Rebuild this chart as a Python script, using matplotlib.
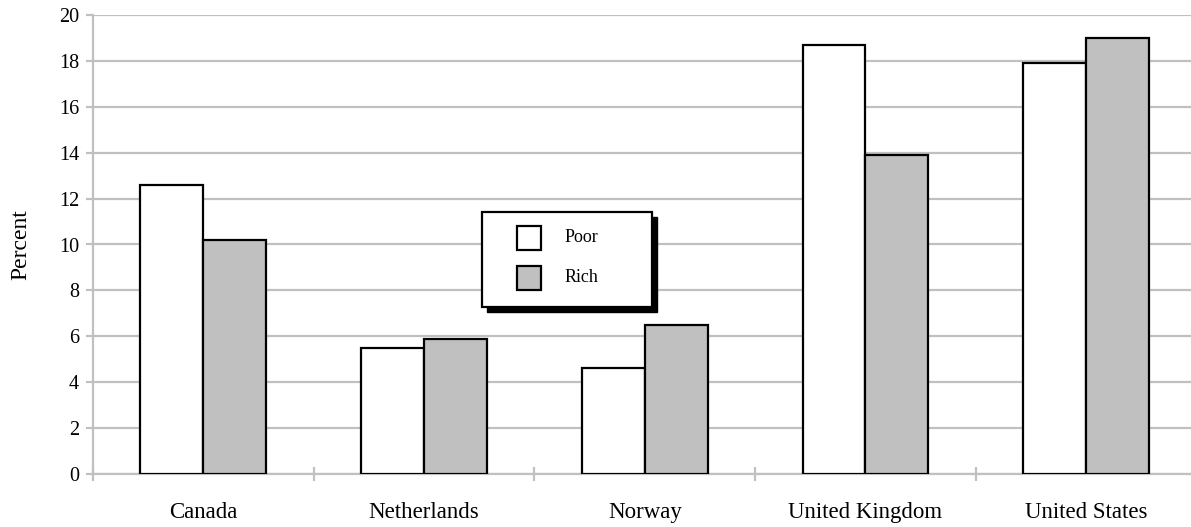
import matplotlib.pyplot as plt
from matplotlib.patches import Rectangle
import numpy as np

# poverty rates by country, poor vs rich
countries = ["Canada", "Netherlands", "Norway", "United Kingdom", "United States"]
poor = [12.6, 5.5, 4.6, 18.7, 17.9]
rich = [10.2, 5.9, 6.5, 13.9, 19.0]
y_ticks = [0, 2, 4, 6, 8, 10, 12, 14, 16, 18, 20]

plt.rcParams['font.family'] = ['Liberation Serif', 'DejaVu Serif']

W, H = 1191, 527
fig = plt.figure(figsize=(W / 100, H / 100), dpi=100)
ax = fig.add_axes([93 / W, 53 / H, 1103.5 / W, 459 / H])

grid_col = '#c0c0c0'
x = np.arange(len(countries))
bw = 0.285

ax.bar(x - bw / 2, poor, bw, color='white', edgecolor='black', linewidth=1.6, zorder=3, label='Poor')
ax.bar(x + bw / 2, rich, bw, color='#c0c0c0', edgecolor='black', linewidth=1.6, zorder=3, label='Rich')

ax.set_xlim(-0.5, len(countries) - 0.5)
ax.set_ylim(0, 20)
ax.set_yticks(y_ticks)
ax.yaxis.grid(True, color=grid_col, linewidth=1.6, zorder=0)
ax.set_axisbelow(True)

for s in ['top', 'right']:
    ax.spines[s].set_visible(False)
for s in ['left', 'bottom']:
    ax.spines[s].set_color(grid_col)
    ax.spines[s].set_linewidth(1.6)

# category boundaries as crossing ticks, names on minor ticks
ax.set_xticks(np.arange(len(countries) + 1) - 0.5)
ax.set_xticklabels([])
ax.set_xticks(x, minor=True)
ax.set_xticklabels(countries, minor=True, fontsize=16.5)
ax.tick_params(axis='x', which='major', direction='inout', length=10, width=1.6, color=grid_col)
ax.tick_params(axis='x', which='minor', length=0, pad=20)
ax.tick_params(axis='y', direction='out', length=5, width=1.6, color=grid_col, labelsize=14.5, pad=5)

ax.set_ylabel('Percent', fontsize=17)
ax.yaxis.set_label_coords(-62 / 1103.5, 0.5)

# legend box with a hard black shadow
lx, ly, lw, lh = 482, 212, 170, 95
to_fig = lambda px, py: (px / W, 1 - py / H)
sx, sy = to_fig(lx + 5, ly + 5 + lh)
fig.patches.append(Rectangle((sx, sy), lw / W, lh / H, transform=fig.transFigure,
                             facecolor='black', edgecolor='black', zorder=10))
bx, by = to_fig(lx, ly + lh)
fig.patches.append(Rectangle((bx, by), lw / W, lh / H, transform=fig.transFigure,
                             facecolor='white', edgecolor='black', linewidth=1.6, zorder=11))
for i, (name, col) in enumerate([('Poor', 'white'), ('Rich', '#c0c0c0')]):
    cy = 238 + i * 40
    hx, hy = to_fig(517, cy + 12)
    fig.patches.append(Rectangle((hx, hy), 24 / W, 24 / H, transform=fig.transFigure,
                                 facecolor=col, edgecolor='black', linewidth=1.6, zorder=12))
    tx, ty = to_fig(565, cy)
    fig.text(tx, ty, name, fontsize=13, va='center', ha='left', zorder=13)

fig.savefig('out.png', dpi=100)
